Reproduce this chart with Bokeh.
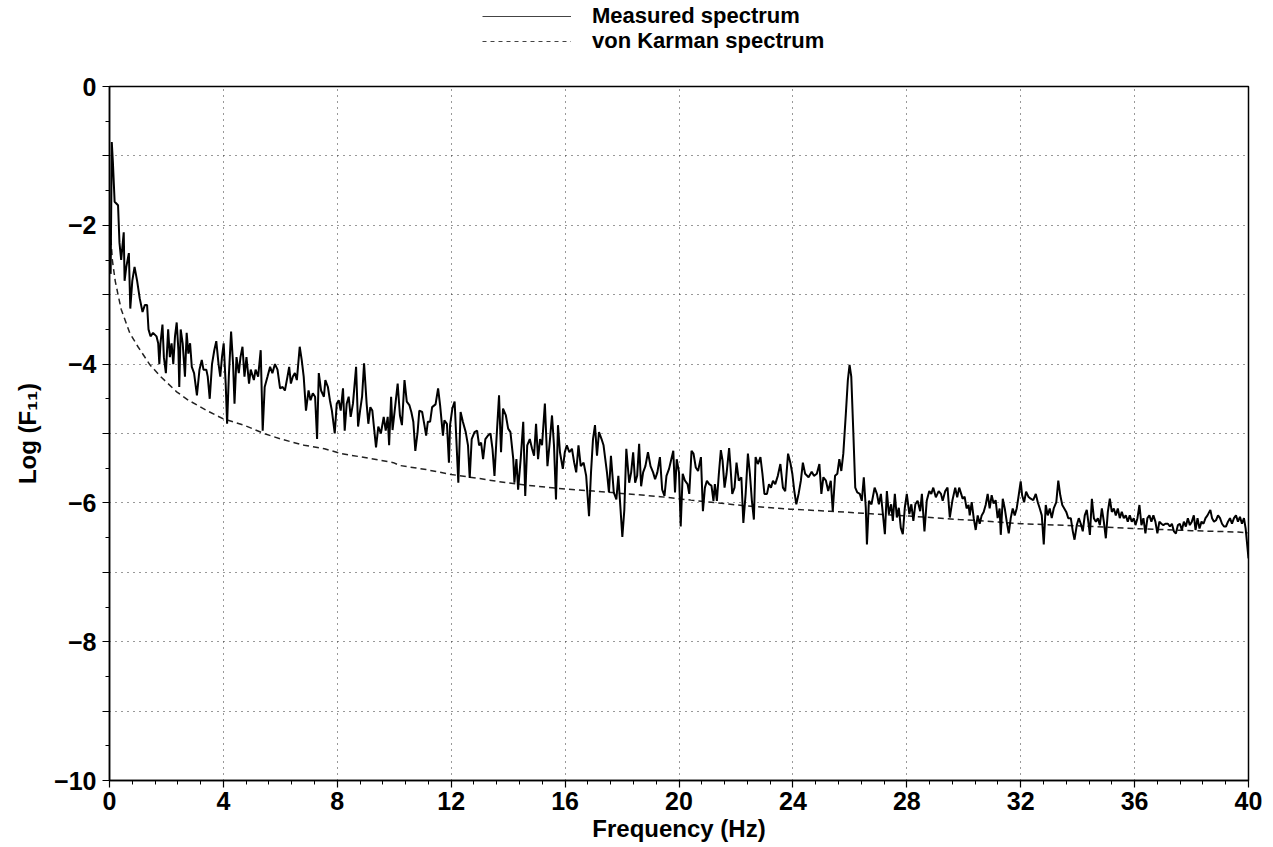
from bokeh.plotting import figure
from bokeh.models import FixedTicker, Legend, LegendItem, Range1d
from bokeh.layouts import column
from bokeh.embed import file_html
from bokeh.resources import INLINE

# ---- Measured spectrum ----
freq_hz = [
    0.04, 0.08, 0.12, 0.18, 0.30, 0.35, 0.41, 0.50, 0.53, 0.59, 0.68, 0.73, 0.80, 0.88, 0.97,
    1.06, 1.16, 1.24, 1.32, 1.37, 1.44, 1.53, 1.65, 1.71, 1.75, 1.79, 1.86, 1.91, 1.98,
    2.06, 2.12, 2.18, 2.24, 2.30, 2.36, 2.42, 2.45, 2.50, 2.57, 2.65, 2.71, 2.77, 2.83, 2.89, 2.97,
    3.07, 3.16, 3.24, 3.30, 3.40, 3.45, 3.52, 3.60, 3.68, 3.75, 3.83, 3.89, 3.95,
    4.01, 4.08, 4.13, 4.19, 4.27, 4.34, 4.39, 4.46, 4.54, 4.60, 4.67, 4.74, 4.81, 4.90, 4.96,
    5.07, 5.13, 5.22, 5.31, 5.38, 5.45, 5.55, 5.64, 5.72, 5.81, 5.90, 5.99,
    6.08, 6.16, 6.25, 6.31, 6.37, 6.44, 6.51, 6.58, 6.68, 6.75, 6.82, 6.90, 6.99,
    7.06, 7.14, 7.22, 7.29, 7.35, 7.43, 7.53, 7.58, 7.67, 7.74, 7.81, 7.91, 7.98,
    8.05, 8.12, 8.20, 8.26, 8.33, 8.40, 8.47, 8.55, 8.66, 8.73, 8.80, 8.87, 8.94,
    9.03, 9.09, 9.16, 9.23, 9.30, 9.36, 9.44, 9.53, 9.63, 9.70, 9.77, 9.82, 9.89, 9.94,
    10.12, 10.20, 10.27, 10.36, 10.44, 10.53, 10.60, 10.67, 10.74, 10.82, 10.88, 10.98,
    11.06, 11.12, 11.18, 11.26, 11.33, 11.45, 11.54, 11.61, 11.71, 11.76, 11.85, 11.92, 11.96,
    12.04, 12.12, 12.18, 12.25, 12.33, 12.41, 12.51, 12.59, 12.65, 12.72, 12.82, 12.91, 12.98,
    13.05, 13.12, 13.20, 13.29, 13.38, 13.45, 13.52, 13.59, 13.68, 13.75, 13.82, 13.92,
    14.00, 14.08, 14.18, 14.22, 14.29, 14.35, 14.44, 14.53, 14.60, 14.67, 14.76, 14.84, 14.91, 14.98,
    15.05, 15.12, 15.19, 15.29, 15.38, 15.45, 15.54, 15.61, 15.68, 15.75, 15.82, 15.92, 15.99,
    16.06, 16.15, 16.24, 16.32, 16.39, 16.47, 16.55, 16.65, 16.74, 16.84, 16.91, 16.98,
    17.05, 17.12, 17.19, 17.28, 17.35, 17.47, 17.54, 17.61, 17.71, 17.80, 17.87, 17.94,
    18.01, 18.08, 18.15, 18.25, 18.32, 18.39, 18.46, 18.53, 18.60, 18.67, 18.74, 18.82, 18.91,
    19.00, 19.09, 19.16, 19.24, 19.33, 19.41, 19.49, 19.56, 19.65, 19.73, 19.80, 19.86, 19.92,
    20.00, 20.06, 20.13, 20.21, 20.30, 20.36, 20.44, 20.51, 20.59, 20.67, 20.77, 20.84, 20.91, 20.98,
    21.06, 21.14, 21.21, 21.26, 21.33, 21.40, 21.47, 21.53, 21.60, 21.67, 21.76, 21.81, 21.87, 21.95,
    22.02, 22.10, 22.19, 22.26, 22.34, 22.42, 22.49, 22.56, 22.63, 22.69, 22.77, 22.86, 22.93,
    23.00, 23.09, 23.16, 23.23, 23.30, 23.38, 23.47, 23.56, 23.65, 23.73, 23.83, 23.91, 23.98,
    24.05, 24.12, 24.20, 24.28, 24.35, 24.43, 24.55, 24.66, 24.74, 24.84, 24.93,
    25.00, 25.07, 25.16, 25.24, 25.33, 25.40, 25.48, 25.56, 25.63, 25.70, 25.77, 25.86, 25.93, 25.99,
    26.05, 26.12, 26.19, 26.26, 26.35, 26.42, 26.49, 26.56, 26.60, 26.67, 26.76, 26.87, 26.95,
    27.02, 27.09, 27.16, 27.23, 27.30, 27.37, 27.45, 27.51, 27.58, 27.65, 27.72, 27.79, 27.86, 27.93,
    28.00, 28.09, 28.16, 28.23, 28.30, 28.38, 28.47, 28.53, 28.62, 28.70, 28.79, 28.86, 28.93,
    29.02, 29.12, 29.20, 29.26, 29.35, 29.43, 29.51, 29.60, 29.70, 29.77, 29.84, 29.91, 29.96,
    30.03, 30.10, 30.17, 30.21, 30.28, 30.35, 30.42, 30.49, 30.56, 30.63, 30.70, 30.77, 30.84, 30.91, 30.98,
    31.05, 31.12, 31.19, 31.26, 31.30, 31.37, 31.44, 31.51, 31.58, 31.65, 31.72, 31.79, 31.86, 31.93,
    32.00, 32.05, 32.12, 32.19, 32.27, 32.35, 32.44, 32.53, 32.60, 32.67, 32.74, 32.81, 32.88, 32.95,
    33.02, 33.09, 33.16, 33.25, 33.32, 33.39, 33.46, 33.53, 33.60, 33.67, 33.76, 33.83, 33.89, 33.97,
    34.04, 34.11, 34.18, 34.25, 34.32, 34.39, 34.43, 34.50, 34.57, 34.64, 34.71, 34.78, 34.85, 34.92, 34.99,
    35.06, 35.13, 35.20, 35.27, 35.34, 35.41, 35.48, 35.55, 35.62, 35.69, 35.76, 35.83, 35.90, 35.97,
    36.03, 36.10, 36.17, 36.24, 36.31, 36.38, 36.45, 36.52, 36.59, 36.66, 36.73, 36.80, 36.87, 36.94,
    37.01, 37.08, 37.17, 37.24, 37.31, 37.38, 37.45, 37.52, 37.59, 37.66, 37.73, 37.80, 37.87, 37.94,
    38.01, 38.08, 38.14, 38.21, 38.28, 38.35, 38.42, 38.49, 38.56, 38.66, 38.72, 38.79, 38.86, 38.93,
    39.00, 39.07, 39.14, 39.21, 39.28, 39.35, 39.42, 39.49, 39.56, 39.63, 39.70, 39.77, 39.84, 39.90, 40.00,
]

log_f11_measured = [
    -2.7, -0.8, -1.1, -1.66, -1.71, -2.25, -2.5, -2.1, -2.8, -2.6, -2.4, -3.2, -2.8, -2.6, -2.8,
    -3.05, -3.25, -3.15, -3.15, -3.5, -3.6, -3.55, -3.6, -3.7, -4.0, -3.7, -3.43, -3.9, -4.13,
    -3.5, -3.9, -3.7, -4.0, -3.6, -3.4, -3.8, -4.33, -3.5, -3.7, -4.18, -3.55, -3.85, -3.7, -4.04, -4.13,
    -4.45, -4.08, -3.94, -4.08, -4.08, -4.18, -4.5, -4.0, -3.8, -3.67, -4.0, -4.18, -3.9,
    -3.7, -4.28, -4.86, -4.18, -3.53, -4.0, -4.57, -3.9, -4.13, -3.9, -3.75, -4.18, -3.9, -4.28, -4.08,
    -4.23, -4.08, -4.18, -3.8, -4.96, -4.33, -4.18, -4.04, -4.13, -4.0, -4.08, -4.35,
    -4.33, -4.38, -4.18, -4.04, -4.28, -4.18, -4.13, -4.23, -3.75, -3.94, -4.18, -4.67, -4.38,
    -4.52, -4.42, -4.47, -5.08, -4.13, -4.38, -4.47, -4.23, -4.33, -4.52, -4.67, -5.0, -4.57,
    -4.52, -4.67, -4.35, -4.96, -4.57, -4.47, -4.76, -4.57, -4.04, -4.9, -4.67, -4.47, -3.99,
    -4.57, -4.86, -4.62, -4.67, -4.96, -5.2, -4.9, -5.0, -4.76, -4.96, -4.76, -5.17, -4.47, -4.95,
    -4.28, -4.74, -4.88, -4.23, -4.54, -4.59, -4.69, -4.83, -5.25, -4.98, -4.67, -4.69,
    -4.88, -5.03, -4.83, -4.83, -4.62, -4.58, -4.35, -4.59, -5.03, -4.81, -4.86, -5.42, -4.88,
    -4.64, -4.54, -5.08, -5.71, -4.69, -4.83, -4.98, -5.17, -5.64, -5.08, -4.98, -4.96, -5.17,
    -5.13, -5.37, -5.08, -5.03, -5.0, -5.22, -5.61, -5.08, -4.45, -5.27, -4.64, -4.74,
    -4.93, -4.98, -5.37, -5.71, -5.37, -5.81, -5.37, -4.83, -5.9, -5.17, -5.08, -5.22, -5.32, -4.86,
    -5.37, -5.08, -5.17, -4.57, -5.47, -5.17, -4.74, -5.17, -5.95, -4.88, -5.27, -5.51, -5.27,
    -5.17, -5.27, -5.22, -5.42, -5.56, -5.17, -5.47, -5.42, -5.61, -6.19, -5.56, -5.08,
    -4.88, -5.32, -4.98, -5.08, -5.17, -5.56, -5.85, -5.32, -5.85, -5.95, -5.61, -6.05,
    -6.49, -6.1, -5.22, -5.71, -5.56, -5.27, -5.71, -5.61, -5.15, -5.76, -5.56, -5.47, -5.27,
    -5.47, -5.56, -5.66, -5.56, -5.34, -5.81, -5.9, -5.61, -5.51, -5.37, -5.25, -5.85, -5.37,
    -5.56, -6.34, -5.58, -5.68, -5.73, -5.87, -5.25, -5.29, -5.49, -5.54, -5.34, -6.12, -5.78, -5.68,
    -5.73, -5.75, -5.97, -5.73, -5.97, -5.58, -5.24, -5.39, -5.78, -5.58, -5.21, -5.49, -5.87, -5.78,
    -5.42, -5.68, -5.63, -6.29, -5.87, -5.29, -5.58, -5.97, -6.24, -5.34, -5.44, -5.34, -5.58,
    -5.87, -5.87, -5.73, -5.78, -5.68, -5.73, -5.61, -5.44, -5.78, -5.83, -5.29, -5.42, -5.58,
    -5.83, -6.02, -5.87, -5.68, -5.42, -5.58, -5.63, -5.55, -5.61, -5.58, -5.44,
    -5.87, -5.63, -5.68, -5.83, -5.68, -6.12, -5.61, -5.58, -5.37, -5.54, -5.29, -4.71, -4.23, -4.01,
    -4.18, -4.96, -5.78, -5.85, -5.87, -5.97, -5.63, -6.07, -6.6, -5.97, -6.02, -5.78, -5.87,
    -6.02, -5.87, -6.16, -6.45, -5.83, -6.16, -6.02, -6.26, -5.87, -6.21, -6.07, -6.36, -6.45, -6.07,
    -5.87, -6.16, -6.02, -6.26, -6.02, -5.97, -6.12, -5.87, -6.41, -5.97, -5.83, -5.87, -5.78,
    -5.92, -5.83, -5.87, -5.97, -5.83, -5.78, -6.21, -5.97, -5.78, -5.92, -5.78, -5.87, -5.94,
    -5.91, -6.08, -6.03, -6.18, -5.99, -6.22, -6.39, -6.18, -6.3, -6.18, -6.13, -6.03, -5.87, -6.08, -5.89,
    -6.01, -5.96, -6.22, -6.08, -6.46, -5.94, -6.08, -6.27, -6.44, -6.22, -6.08, -6.18, -6.08, -5.89,
    -5.69, -5.89, -5.99, -5.84, -5.91, -5.94, -5.96, -5.87, -5.99, -6.08, -6.18, -6.6, -6.03, -6.18,
    -6.08, -6.22, -6.08, -5.99, -5.68, -5.89, -6.03, -6.08, -6.13, -6.22, -6.22, -6.41, -6.53, -6.32,
    -6.22, -6.3, -6.41, -6.18, -6.1, -6.32, -6.46, -5.94, -6.22, -6.27, -6.22, -6.32, -6.08, -6.27, -6.51,
    -6.13, -5.94, -6.13, -6.08, -6.18, -6.08, -6.22, -6.13, -6.22, -6.18, -6.27, -6.18, -6.27, -6.22,
    -6.32, -6.22, -6.03, -6.32, -6.22, -6.44, -6.22, -6.18, -6.27, -6.18, -6.27, -6.44, -6.27, -6.3,
    -6.32, -6.3, -6.3, -6.34, -6.3, -6.41, -6.44, -6.32, -6.3, -6.39, -6.27, -6.34, -6.22, -6.32,
    -6.27, -6.18, -6.39, -6.22, -6.37, -6.27, -6.3, -6.22, -6.18, -6.1, -6.22, -6.27, -6.25, -6.18,
    -6.22, -6.3, -6.34, -6.34, -6.27, -6.22, -6.3, -6.22, -6.18, -6.27, -6.2, -6.3, -6.22, -6.37, -6.8,
]

# ---- von Karman spectrum ----
vk_freq_hz = [0.05, 0.1, 0.2, 0.3, 0.41, 0.71, 1.0, 1.42, 1.77, 2.36, 2.77, 3.42, 4.0, 4.72,
              5.43, 6.02, 6.84, 7.55, 8.14, 8.73, 9.44, 9.97, 10.18, 11.12, 12.0, 13.0, 13.94,
              15.0, 16.0, 17.0, 18.18, 19.35, 20.42, 22.28, 23.9, 25.3, 26.47, 28.09, 29.84,
              30.35, 32.0, 33.95, 36.03, 38.0, 39.63, 40.0]
vk_log_f11 = [-2.2, -2.5, -2.8, -3.0, -3.21, -3.55, -3.75, -4.01, -4.17, -4.4, -4.52, -4.67, -4.79,
              -4.88, -5.0, -5.08, -5.17, -5.22, -5.29, -5.33, -5.38, -5.42, -5.46, -5.52, -5.59,
              -5.65, -5.71, -5.76, -5.8, -5.83, -5.87, -5.91, -5.96, -6.04, -6.09, -6.12, -6.15,
              -6.19, -6.24, -6.25, -6.3, -6.33, -6.37, -6.4, -6.42, -6.43]

x_major_ticks = [0, 4, 8, 12, 16, 20, 24, 28, 32, 36, 40]
x_grid_ticks = [4, 8, 12, 16, 20, 24, 28, 32, 36]
y_major_ticks = [-10, -9, -8, -7, -6, -5, -4, -3, -2, -1, 0]
y_grid_ticks = [-9, -8, -7, -6, -5, -4, -3, -2, -1]
y_tick_labels = {-10: "\u221210", -8: "\u22128", -6: "\u22126", -4: "\u22124", -2: "\u22122", 0: "0",
                 -9: "", -7: "", -5: "", -3: "", -1: ""}
legend_labels = ["Measured spectrum", "von Karman spectrum"]

FONT = "Liberation Sans"

# ---------- legend strip above the chart ----------
# (its frame is aligned by the column layout with the chart frame, x from ~110 px)
top = figure(width=1273, height=58, output_backend="svg", toolbar_location=None,
             x_range=Range1d(0, 1), y_range=Range1d(0, 1),
             x_axis_type=None, y_axis_type=None, min_border=0)
top.outline_line_color = None
top.grid.visible = False
top.background_fill_color = "white"
top.border_fill_color = "white"
# same series drawn in the strip (they fall outside its ranges, so only the legend samples show)
r_leg1 = top.line(freq_hz, log_f11_measured, line_color="#444444", line_width=1)
r_leg2 = top.line(vk_freq_hz, vk_log_f11, line_color="#444444", line_width=1, line_dash="4 4")
for i, (lab, rr) in enumerate(zip(legend_labels, [r_leg1, r_leg2])):
    lg = Legend(items=[LegendItem(label=lab, renderers=[rr])],
                location=(373, 29 - 25 * i))
    lg.glyph_width = 89
    lg.glyph_height = 20
    lg.label_standoff = 21
    lg.padding = 0
    lg.margin = 0
    lg.spacing = 0
    lg.border_line_color = None
    lg.background_fill_alpha = 0
    lg.label_text_font = FONT
    lg.label_text_font_style = "bold"
    lg.label_text_font_size = "22px"
    lg.label_text_color = "black"
    top.add_layout(lg, "center")

# ---------- main chart ----------
p = figure(width=1273, height=789, output_backend="svg", toolbar_location=None,
           x_range=Range1d(0, 40), y_range=Range1d(-10, 0),
           min_border_left=109, min_border_right=25, min_border_top=28, min_border_bottom=67)
p.background_fill_color = "white"
p.border_fill_color = "white"
p.outline_line_color = "black"
p.outline_line_width = 1.5

p.xaxis.ticker = FixedTicker(ticks=x_major_ticks, minor_ticks=[round(i * 0.8, 2) for i in range(51)])
p.yaxis.ticker = FixedTicker(ticks=y_major_ticks, minor_ticks=[i * 0.5 - 10 for i in range(21)])
p.yaxis.major_label_overrides = y_tick_labels
for ax in (p.xaxis[0], p.yaxis[0]):
    ax.axis_line_color = "black"
    ax.axis_line_width = 1.5
    ax.major_tick_line_color = "black"
    ax.minor_tick_line_color = "black"
    ax.major_tick_line_width = 1.2
    ax.minor_tick_line_width = 1
    ax.major_tick_in = 0
    ax.minor_tick_in = 0
    ax.major_tick_out = 7
    ax.minor_tick_out = 4
    ax.major_label_text_font = FONT
    ax.major_label_text_font_style = "bold"
    ax.major_label_text_font_size = "25px"
    ax.major_label_text_color = "black"
    ax.axis_label_text_font = FONT
    ax.axis_label_text_font_style = "bold"
    ax.axis_label_text_font_size = "24px"
    ax.axis_label_text_color = "black"

p.xaxis.axis_label = "Frequency (Hz)"
p.xaxis.major_label_standoff = 4
p.xaxis.axis_label_standoff = 2
p.yaxis.axis_label = "Log (F\u2081\u2081)"
p.yaxis.major_label_standoff = 6
p.yaxis.axis_label_standoff = 10

p.xgrid.ticker = FixedTicker(ticks=x_grid_ticks)
p.ygrid.ticker = FixedTicker(ticks=y_grid_ticks)
for g in (p.xgrid[0], p.ygrid[0]):
    g.grid_line_color = "#333333"
    g.grid_line_width = 1
    g.grid_line_dash = "1 5"

p.line(vk_freq_hz, vk_log_f11, line_color="#222222", line_width=1.5, line_dash="6 4")
p.line(freq_hz, log_f11_measured, line_color="black", line_width=2)

layout = column(top, p, spacing=0)
open("out.html", "w").write(file_html(layout, INLINE))
